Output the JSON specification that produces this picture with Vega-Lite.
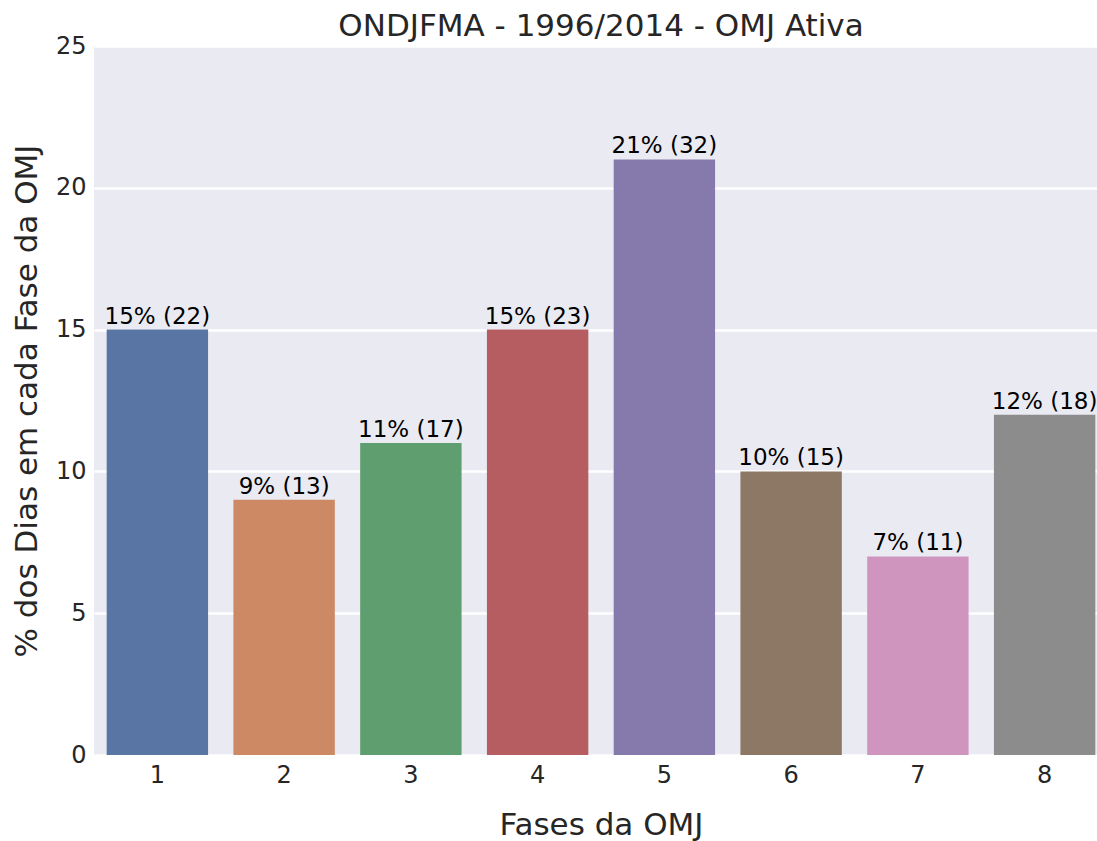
{
  "$schema": "https://vega.github.io/schema/vega-lite/v6.json",
  "autosize": {"type": "none"},
  "padding": {"left": 94, "top": 46, "right": 0, "bottom": 86},
  "width": 1014,
  "height": 709,
  "background": "white",
  "title": {"text": "ONDJFMA - 1996/2014 - OMJ Ativa", "font": "DejaVu Sans", "fontSize": 31, "fontWeight": "normal", "color": "#262626", "offset": -9},
  "config": {
    "view": {"fill": "#EAEAF2", "stroke": null},
    "axis": {"labelFont": "DejaVu Sans", "titleFont": "DejaVu Sans", "labelColor": "#262626", "titleColor": "#262626", "domain": false, "ticks": false, "titleFontWeight": "normal"}
  },
  "data": {"values": [
    {"fase": "1", "pct": 15, "label": "15% (22)"},
    {"fase": "2", "pct": 9, "label": "9% (13)"},
    {"fase": "3", "pct": 11, "label": "11% (17)"},
    {"fase": "4", "pct": 15, "label": "15% (23)"},
    {"fase": "5", "pct": 21, "label": "21% (32)"},
    {"fase": "6", "pct": 10, "label": "10% (15)"},
    {"fase": "7", "pct": 7, "label": "7% (11)"},
    {"fase": "8", "pct": 12, "label": "12% (18)"}
  ]},
  "encoding": {
    "x": {"field": "fase", "type": "nominal", "sort": null,
      "scale": {"paddingInner": 0.2, "paddingOuter": 0.1},
      "axis": {"title": "Fases da OMJ", "labelAngle": 0, "labelFontSize": 24, "titleFontSize": 31, "labelPadding": 8, "titlePadding": 23, "grid": false}},
    "y": {"field": "pct", "type": "quantitative",
      "scale": {"domain": [0, 25], "nice": false},
      "axis": {"title": "% dos Dias em cada Fase da OMJ", "values": [0, 5, 10, 15, 20, 25], "labelFontSize": 24, "titleFontSize": 31, "labelPadding": 8, "titlePadding": 12, "grid": true, "gridColor": "white", "gridWidth": 2.5}}
  },
  "layer": [
    {"mark": {"type": "bar"},
     "encoding": {"color": {"field": "fase", "type": "nominal", "sort": null, "legend": null,
       "scale": {"range": ["#5975a4", "#cc8963", "#5f9e6e", "#b55d60", "#857aab", "#8d7866", "#d095bf", "#8c8c8c"]}}}},
    {"mark": {"type": "text", "baseline": "bottom", "dy": -1, "font": "DejaVu Sans", "fontSize": 23, "color": "black"},
     "encoding": {"text": {"field": "label"}}}
  ]
}
